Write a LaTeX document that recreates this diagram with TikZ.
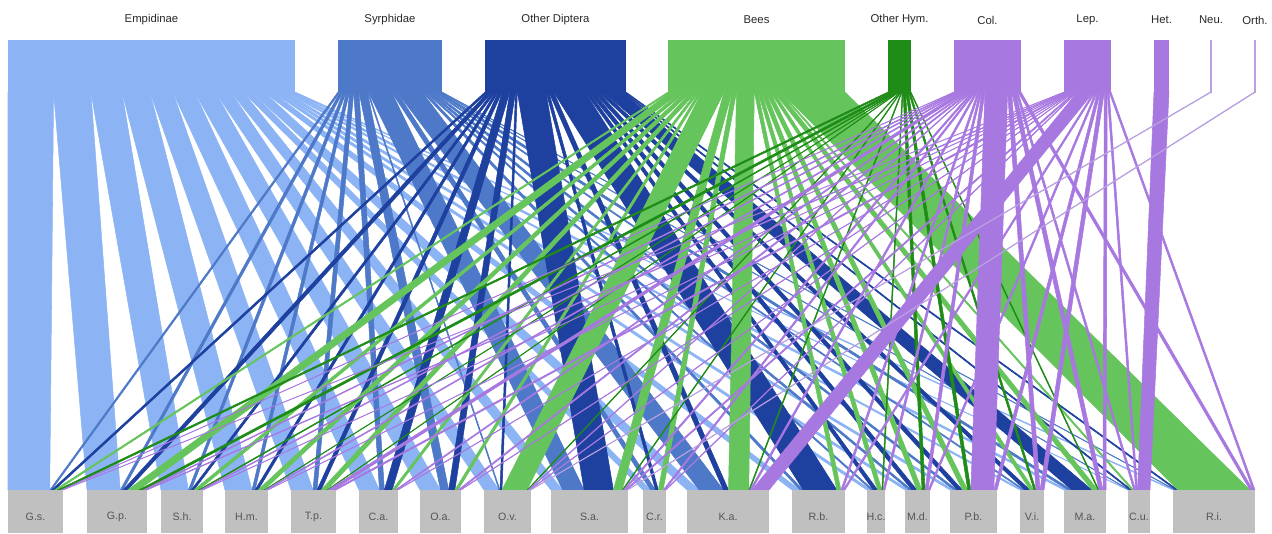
\documentclass[tikz,border=0pt]{standalone}
\usepackage{fontspec}
\setmainfont{Liberation Sans}
\newcount\wacc
\newcommand\colW[2]{%
  \foreach \v [count=\k] in {#2}{\expandafter\xdef\csname W@\k @#1\endcsname{\v}}%
}
\definecolor{c1}{RGB}{140,180,245}
\definecolor{c2}{RGB}{78,121,200}
\definecolor{c3}{RGB}{30,64,158}
\definecolor{c4}{RGB}{102,196,92}
\definecolor{c5}{RGB}{30,140,22}
\definecolor{c6}{RGB}{168,120,225}
\definecolor{c7}{RGB}{168,120,225}
\definecolor{c8}{RGB}{168,120,225}
\definecolor{c9}{RGB}{185,160,225}
\definecolor{c10}{RGB}{185,160,225}
\definecolor{boxgray}{RGB}{192,192,192}
\definecolor{toptext}{RGB}{40,40,40}
\definecolor{bottext}{RGB}{85,85,85}
\tikzset{
  toplabel/.style={text=toptext,font=\fontsize{8.5}{10}\selectfont,inner sep=0pt},
  botlabel/.style={text=bottext,font=\fontsize{8}{10}\selectfont,inner sep=0pt},
  linkband/.style={fill=#1,draw=#1,line width=0.4pt,line join=bevel},
}
\begin{document}
\begin{tikzpicture}[x=0.75pt,y=-0.75pt]
\useasboundingbox (0,0) rectangle (1272,533);
% interaction weights, one line per lower box (E,S,D,B,H,C,L,T,N,O)
\colW{1}{44,2,3,3,4,1,1,0,0,0}
\colW{2}{36,3,5,12,5,2,2,0,0,0}
\colW{3}{30,3,3,5,2,2,1,0,0,0}
\colW{4}{27,3,3,6,1,2,1,0,0,0}
\colW{5}{22,4,4,6,1,5,3,0,0,0}
\colW{6}{21,5,8,3,0,2,1,0,0,0}
\colW{7}{20,8,6,3,0,2,1,0,0,0}
\colW{8}{15,1,2,25,1,1,1,0,1,0}
\colW{9}{12,22,30,9,1,2,2,0,0,1}
\colW{10}{8,5,3,5,0,2,1,0,0,0}
\colW{11}{12,24,5,20,1,2,17,0,0,0}
\colW{12}{8,3,33,4,0,2,2,0,0,0}
\colW{13}{4,2,4,4,1,2,0,0,0,0}
\colW{14}{4,3,5,5,3,3,2,0,0,0}
\colW{15}{4,3,5,5,3,22,3,0,0,0}
\colW{16}{3,2,5,4,2,4,4,0,0,0}
\colW{17}{4,4,20,6,1,4,3,0,0,0}
\colW{18}{1,1,2,2,0,2,2,13,0,0}
\colW{19}{2,1,2,72,0,3,2,0,0,0}
\def\myTL{{8,338,485,668,888,954,1064,1154,1210.3,1254.3}}
\def\myTR{{295,442,626,845,911,1021,1111,1169,1211.7,1255.7}}
\def\myBL{{8,87,161,225,291,359,420,484,551,643,687,792,867,905,950,1020,1064,1128,1173}}
\def\myBR{{63,147,203,268,336,398,461,531,628,666,769,845,885,930,997,1044,1106,1150,1255}}
% cumulative offsets along upper boxes
\foreach \i in {1,...,10}{%
  \global\wacc=0
  \foreach \j in {1,...,19}{%
    \expandafter\xdef\csname TS@\i @\j\endcsname{\the\wacc}%
    \global\advance\wacc by \csname W@\i @\j\endcsname\relax
  }%
  \expandafter\xdef\csname R@\i\endcsname{\the\wacc}%
}
% cumulative offsets along lower boxes
\foreach \j in {1,...,19}{%
  \global\wacc=0
  \foreach \i in {1,...,10}{%
    \expandafter\xdef\csname BS@\i @\j\endcsname{\the\wacc}%
    \global\advance\wacc by \csname W@\i @\j\endcsname\relax
  }%
  \expandafter\xdef\csname C@\j\endcsname{\the\wacc}%
}
% links
\foreach \i in {1,...,10}{%
  \pgfmathsetmacro\tl{\myTL[\i-1]}%
  \pgfmathsetmacro\tr{\myTR[\i-1]}%
  \edef\rs{\csname R@\i\endcsname}%
  \pgfmathsetmacro\tu{(\tr-\tl)/\rs}%
  \foreach \j in {1,...,19}{%
    \edef\w{\csname W@\i @\j\endcsname}%
    \ifnum\w>0
      \pgfmathsetmacro\bl{\myBL[\j-1]}%
      \pgfmathsetmacro\br{\myBR[\j-1]}%
      \edef\cs{\csname C@\j\endcsname}%
      \edef\ts{\csname TS@\i @\j\endcsname}%
      \edef\bs{\csname BS@\i @\j\endcsname}%
      \pgfmathsetmacro\bu{(\br-\bl)/\cs}%
      \pgfmathsetmacro\xa{\tl+\ts*\tu}%
      \pgfmathsetmacro\xb{\xa+\w*\tu}%
      \pgfmathsetmacro\ya{\bl+\bs*\bu}%
      \pgfmathsetmacro\yb{\ya+\w*\bu}%
      \path[linkband=c\i] (\xa,92) -- (\xb,92) -- (\yb,490) -- (\ya,490) -- cycle;
    \fi
  }%
}
% upper boxes and labels
\foreach \n [count=\i] in {Empidinae,Syrphidae,Other Diptera,Bees,Other Hym.,Col.,Lep.,Het.,Neu.,Orth.}{%
  \pgfmathsetmacro\tl{\myTL[\i-1]}%
  \pgfmathsetmacro\tr{\myTR[\i-1]}%
  \fill[c\i] (\tl,40) rectangle (\tr,92.5);
  \node[toplabel] (t\i) at ({(\tl+\tr)/2},20) {\n};
}
% lower boxes and labels
\foreach \n [count=\j] in {G.s.,G.p.,S.h.,H.m.,T.p.,C.a.,O.a.,O.v.,S.a.,C.r.,K.a.,R.b.,H.c.,M.d.,P.b.,V.i.,M.a.,C.u.,R.i.}{%
  \pgfmathsetmacro\bl{\myBL[\j-1]}%
  \pgfmathsetmacro\br{\myBR[\j-1]}%
  \fill[boxgray] (\bl,490) rectangle (\br,533);
  \node[botlabel] (b\j) at ({(\bl+\br)/2},517) {\n};
}
\end{tikzpicture}
\end{document}
